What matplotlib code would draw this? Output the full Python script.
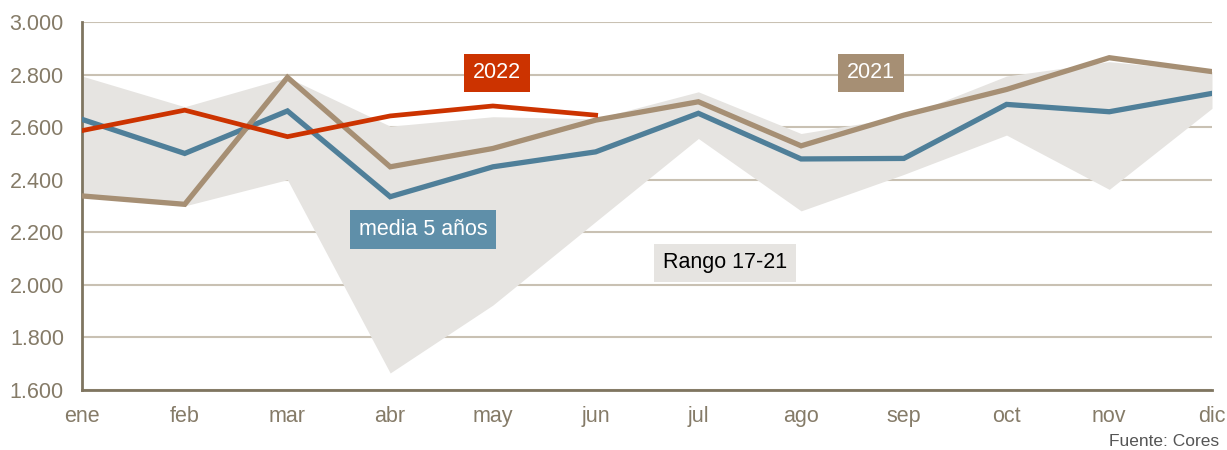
import matplotlib
matplotlib.use("Agg")
import matplotlib.pyplot as plt

months = ["ene", "feb", "mar", "abr", "may", "jun", "jul", "ago", "sep", "oct", "nov", "dic"]
range_low = [2335, 2300, 2400, 1663, 1922, 2240, 2557, 2281, 2420, 2570, 2363, 2672]
range_high = [2795, 2678, 2790, 2604, 2640, 2632, 2735, 2576, 2640, 2795, 2850, 2812]
y2021 = [2338, 2306, 2790, 2449, 2519, 2627, 2697, 2529, 2646, 2744, 2865, 2812]
media5 = [2630, 2500, 2662, 2335, 2449, 2506, 2653, 2479, 2481, 2687, 2659, 2729]
y2022 = [2587, 2665, 2564, 2643, 2681, 2646]
yticks = [1600, 1800, 2000, 2200, 2400, 2600, 2800, 3000]
ytick_labels = ["1.600", "1.800", "2.000", "2.200", "2.400", "2.600", "2.800", "3.000"]

plt.rcParams["font.family"] = ["Liberation Sans", "DejaVu Sans"]

RED = "#CC3300"
TAN = "#A68F74"
BLUE = "#4F7F99"
BLUE_BOX = "#5F8FA9"
BAND = "#E6E4E1"
GRID = "#C9C1B3"
AXIS = "#7F7560"
TICK = "#857B68"

fig = plt.figure(figsize=(12.27, 4.5), dpi=100)
ax = fig.add_axes([82 / 1227, 1 - 389.5 / 450, (1212 - 82) / 1227, (389.5 - 22.3) / 450])

x = list(range(len(months)))
ax.fill_between(x, range_low, range_high, color=BAND, lw=0, zorder=2)
ax.plot(x, media5, color=BLUE, lw=3.8, zorder=3, solid_joinstyle="miter")
ax.plot(x, y2021, color=TAN, lw=3.8, zorder=4, solid_joinstyle="miter")
ax.plot(x[:len(y2022)], y2022, color=RED, lw=3.4, zorder=5, solid_joinstyle="miter")

ax.set_xlim(0, 11)
ax.set_ylim(1600, 3000)
ax.set_yticks(yticks)
ax.set_yticklabels(ytick_labels)
ax.set_xticks(x)
ax.set_xticklabels(months)
ax.yaxis.grid(True, color=GRID, lw=1.5, zorder=1)
ax.set_axisbelow(True)
ax.tick_params(axis="both", length=0, labelsize=15.5, colors=TICK)
ax.tick_params(axis="y", pad=13)
ax.tick_params(axis="x", pad=12)
for s in ["top", "right"]:
    ax.spines[s].set_visible(False)
for s in ["left", "bottom"]:
    ax.spines[s].set_color(AXIS)
    ax.spines[s].set_linewidth(2)

def label(xv, yv, text, fc, tc):
    ax.text(xv, yv, text, ha="center", va="center", fontsize=15.5, color=tc, zorder=10,
            bbox=dict(boxstyle="square,pad=0.4", fc=fc, ec="none"))

label(4.04, 2808, "2022", RED, "white")
label(7.68, 2808, "2021", TAN, "white")
label(3.32, 2210, "media 5 años", BLUE_BOX, "white")
label(6.26, 2083, "Rango 17-21", BAND, "black")

fig.text(1219 / 1227, 1 - 442 / 450, "Fuente: Cores", ha="right", va="center", fontsize=12.5, color="#555555")

fig.savefig("out.png", dpi=100)
